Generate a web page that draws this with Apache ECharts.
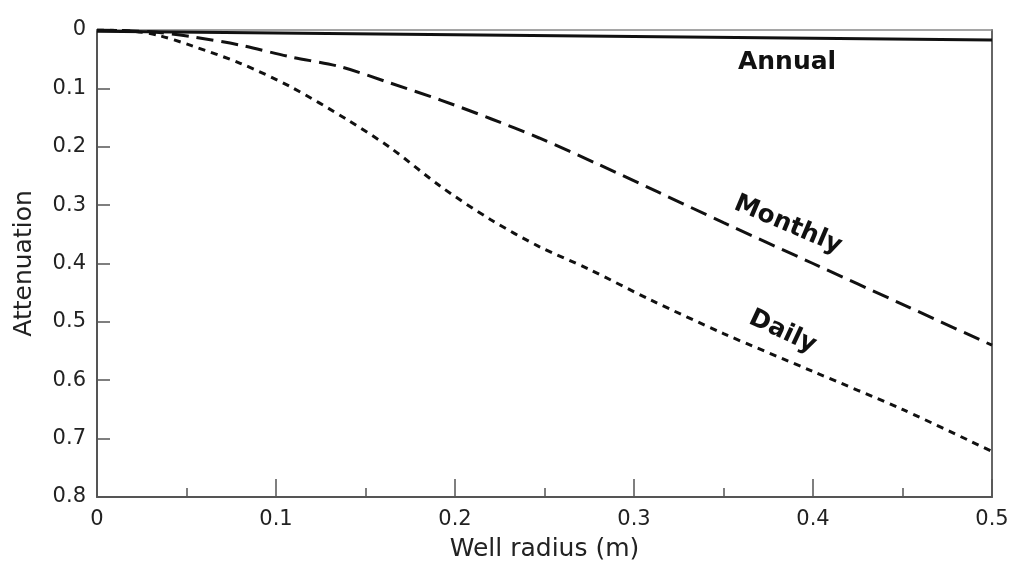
<!DOCTYPE html>
<html>
<head>
<meta charset="utf-8">
<script src="https://cdn.jsdelivr.net/npm/echarts@6/dist/echarts.min.js"></script>
<style>
  html, body { margin: 0; padding: 0; background: #fff; }
  #chart { width: 1012px; height: 569px; }
</style>
</head>
<body>
<div id="chart"></div>
<script>
// Attenuation of temperature fluctuation versus well radius
const radiusDaily   = [0, 0.02, 0.034, 0.052, 0.08, 0.108, 0.14, 0.164, 0.192, 0.22, 0.247, 0.275, 0.309, 0.35, 0.4, 0.45, 0.5];
const valuesDaily   = [0, 0.002, 0.009, 0.026, 0.057, 0.097, 0.154, 0.202, 0.268, 0.325, 0.371, 0.41, 0.462, 0.52, 0.585, 0.65, 0.722];
const radiusMonthly = [0, 0.03, 0.052, 0.08, 0.108, 0.136, 0.164, 0.192, 0.22, 0.247, 0.28, 0.313, 0.35, 0.4, 0.45, 0.5];
const valuesMonthly = [0, 0.003, 0.011, 0.026, 0.046, 0.063, 0.091, 0.12, 0.152, 0.185, 0.23, 0.277, 0.33, 0.40, 0.47, 0.54];
const radiusAnnual  = [0, 0.1, 0.2, 0.3, 0.4, 0.5];
const valuesAnnual  = [0.002, 0.005, 0.008, 0.011, 0.014, 0.017];

// Label anchors [radius, attenuation]
const labelAnnual  = [0.3855, 0.055];
const labelMonthly = [0.386, 0.334];
const labelDaily   = [0.383, 0.517];

const pair = (xs, ys) => xs.map((x, i) => [x, ys[i]]);
const FONT = 'DejaVu Sans, Arial, Helvetica, sans-serif';
const AXIS_COLOR = '#555';
const TEXT_COLOR = '#222';
const tickText = v => (v === 0 ? '0' : String(+v.toFixed(1)));

function seriesLabel(name, coord, rot) {
  return {
    symbol: 'circle',
    symbolSize: 1,
    silent: true,
    itemStyle: { color: 'rgba(0,0,0,0)' },
    data: [{
      coord: coord,
      label: {
        show: true,
        position: 'inside',
        formatter: name,
        rotate: rot,
        fontFamily: FONT,
        fontWeight: 'bold',
        fontSize: 25,
        color: '#111'
      }
    }]
  };
}

const chart = echarts.init(document.getElementById('chart'), null, { renderer: 'canvas' });

chart.setOption({
  backgroundColor: '#fff',
  animation: false,
  grid: { left: 97, right: 20, top: 30, bottom: 72, containLabel: false },
  xAxis: [{
    type: 'value',
    position: 'bottom',
    min: 0, max: 0.5, interval: 0.1,
    name: 'Well radius (m)',
    nameLocation: 'middle',
    nameGap: 40,
    nameTextStyle: { fontFamily: FONT, fontSize: 25, color: TEXT_COLOR },
    axisLine: { show: true, onZero: false, lineStyle: { color: AXIS_COLOR, width: 2 } },
    axisTick: { show: true, inside: true, length: 18, lineStyle: { color: AXIS_COLOR, width: 1.5 } },
    minorTick: { show: true, splitNumber: 2, length: 9, lineStyle: { color: AXIS_COLOR, width: 1.5 } },
    splitLine: { show: false },
    axisLabel: { fontFamily: FONT, fontSize: 21, color: TEXT_COLOR, margin: 12, formatter: tickText }
  }, {
    type: 'value', position: 'top',
    min: 0, max: 0.5,
    axisLine: { show: true, onZero: false, lineStyle: { color: '#888', width: 1.5 } },
    axisTick: { show: false }, axisLabel: { show: false }, splitLine: { show: false }
  }],
  yAxis: [{
    type: 'value',
    position: 'left',
    inverse: true,
    min: 0, max: 0.8, interval: 0.1,
    name: 'Attenuation',
    nameLocation: 'middle',
    nameGap: 60,
    nameTextStyle: { fontFamily: FONT, fontSize: 25, color: TEXT_COLOR },
    axisLine: { show: true, onZero: false, lineStyle: { color: AXIS_COLOR, width: 2 } },
    axisTick: { show: true, inside: true, length: 13, lineStyle: { color: AXIS_COLOR, width: 1.5 } },
    splitLine: { show: false },
    axisLabel: { fontFamily: FONT, fontSize: 21, color: TEXT_COLOR, margin: 11, formatter: tickText }
  }, {
    type: 'value', position: 'right',
    inverse: true, min: 0, max: 0.8,
    axisLine: { show: true, onZero: false, lineStyle: { color: '#666', width: 2 } },
    axisTick: { show: false }, axisLabel: { show: false }, splitLine: { show: false }
  }],
  series: [
    {
      name: 'Annual', type: 'line', showSymbol: false,
      data: pair(radiusAnnual, valuesAnnual),
      lineStyle: { color: '#111', width: 3, type: 'solid' },
      markPoint: seriesLabel('Annual', labelAnnual, 0)
    },
    {
      name: 'Monthly', type: 'line', showSymbol: false, smooth: 0.3,
      data: pair(radiusMonthly, valuesMonthly),
      lineStyle: { color: '#111', width: 3, type: [17, 8] },
      markPoint: seriesLabel('Monthly', labelMonthly, -23)
    },
    {
      name: 'Daily', type: 'line', showSymbol: false, smooth: 0.3,
      data: pair(radiusDaily, valuesDaily),
      lineStyle: { color: '#111', width: 3, type: [7, 6] },
      markPoint: seriesLabel('Daily', labelDaily, -25)
    }
  ]
});
</script>
</body>
</html>
